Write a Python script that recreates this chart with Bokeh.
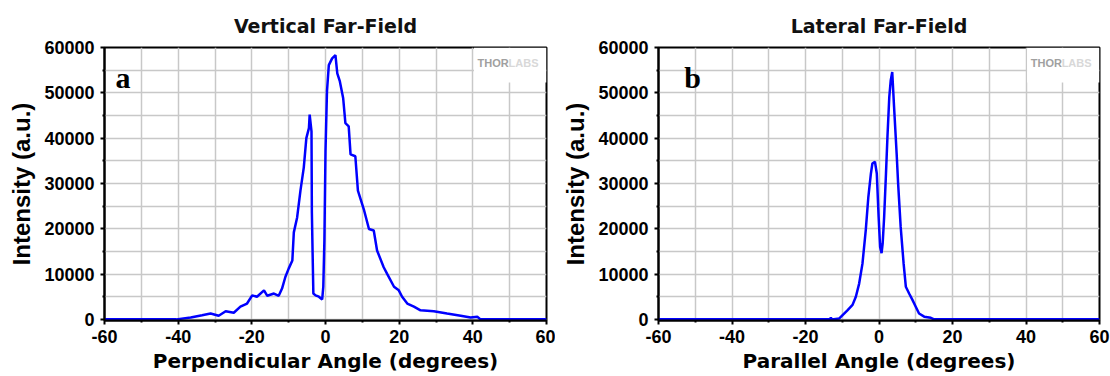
from bokeh.plotting import figure
from bokeh.layouts import row
from bokeh.models import Range1d, FixedTicker, Label, PrintfTickFormatter
from bokeh.embed import file_html
from bokeh.resources import INLINE

# ---- data ----
vert_angle = [-60, -40.5, -36.6, -33.5, -31.2, -29.0, -27.1, -24.9, -23.1, -21.3, -19.9, -18.6,
              -16.7, -15.8, -14.0, -12.7, -11.8, -10.9, -10.0, -9.0, -8.6, -7.7, -6.8, -5.9,
              -5.2, -4.5, -4.3, -3.8, -3.7, -3.3, -2.7, -1.8, -0.9, -0.6, -0.3, 0.0, 0.4,
              0.9, 1.8, 2.7, 3.2, 3.9, 4.8, 5.4, 6.3, 6.8, 8.1, 8.8, 10.4, 11.8, 13.1, 14.0,
              15.8, 16.7, 18.6, 19.9, 20.8, 22.2, 24.0, 25.8, 29.4, 33.0, 36.7, 39.4, 41.2,
              42.1, 60]
vert_intensity = [0, 0, 400, 900, 1300, 800, 1800, 1460, 2800, 3500, 5300, 5000,
                  6400, 5200, 5700, 5200, 6800, 9350, 11200, 13000, 19200, 22500, 28400, 33500,
                  40000, 42200, 45200, 41500, 23600, 5700, 5300, 5000, 4400, 7200, 17400, 37100, 50300,
                  56100, 57600, 58300, 54300, 52500, 48800, 43300, 42600, 36400, 36000, 28400, 24300, 19950, 19600, 15200,
                  11500, 10100, 7200, 6400, 5000, 3500, 2800, 2000, 1800, 1300, 800, 400, 580,
                  0, 0]

lat_angle = [-60, -13.4, -13.1, -12.8, -10.8, -9.9, -8.6, -7.2, -6.3, -5.4, -4.5, -3.6, -2.9,
             -2.2, -1.8, -1.1, -0.6, -0.1, 0.3, 0.7, 1.0, 1.4, 1.9, 2.3, 2.8, 3.2, 3.6,
             4.1, 4.8, 5.2, 5.9, 6.7, 7.3, 8.2, 9.1, 10.0, 10.9, 12.3, 14.1, 15.0, 60]
lat_intensity = [0, 0, 400, 0, 200, 950, 2000, 3200, 5000, 7900, 12300, 19700, 27000,
                 32200, 34400, 34800, 32200, 22600, 16000, 14600, 16800, 22600, 32200, 40300, 49100, 52800, 54600,
                 46900, 36600, 30000, 20400, 12300, 7200, 5700, 4300, 2800, 1300, 600, 350, 0, 0]

x_major = [-60, -40, -20, 0, 20, 40, 60]
x_minor = [-50, -30, -10, 10, 30, 50]
y_major = [0, 10000, 20000, 30000, 40000, 50000, 60000]
y_minor = [5000, 15000, 25000, 35000, 45000, 55000]

GRID = "#c8c8c8"
BLUE = "#0000ff"


def make_panel(title, xlabel, xs, ys, letter, letter_x, border_left, border_right):
    p = figure(width=555, height=376, output_backend="svg", toolbar_location=None,
               x_range=Range1d(-60, 60), y_range=Range1d(-250, 60000),
               min_border_left=border_left, min_border_right=border_right,
               min_border_top=47, min_border_bottom=56, title=title)
    p.title.align = "center"
    p.title.text_font = "DejaVu Sans"
    p.title.text_font_style = "bold"
    p.title.text_font_size = "19px"
    p.title.text_color = "#111111"
    p.title.standoff = 22

    p.xaxis.ticker = FixedTicker(ticks=x_major, minor_ticks=x_minor)
    p.yaxis.ticker = FixedTicker(ticks=y_major, minor_ticks=y_minor)
    p.xaxis.formatter = PrintfTickFormatter(format="%d")
    p.yaxis.formatter = PrintfTickFormatter(format="%d")
    for g in (p.xgrid, p.ygrid):
        g.grid_line_color = GRID
        g.grid_line_width = 1.5
        g.minor_grid_line_color = GRID
        g.minor_grid_line_width = 1.5
    for ax in (p.xaxis, p.yaxis):
        ax.axis_line_color = "black"
        ax.axis_line_width = 2
        ax.major_tick_line_color = "black"
        ax.major_tick_line_width = 2
        ax.major_tick_out = 4
        ax.major_tick_in = 0
        ax.minor_tick_line_color = "black"
        ax.minor_tick_line_width = 2
        ax.minor_tick_out = 2
        ax.minor_tick_in = 0
        ax.major_label_text_font = "Liberation Sans"
        ax.major_label_text_font_style = "bold"
        ax.major_label_text_font_size = "18px"
        ax.major_label_text_color = "black"
    p.xaxis.major_label_standoff = 5
    p.yaxis.major_label_standoff = 6

    p.xaxis.axis_label = xlabel
    p.xaxis.axis_label_text_font = "DejaVu Sans"
    p.xaxis.axis_label_text_font_style = "bold"
    p.xaxis.axis_label_text_font_size = "20px"
    p.xaxis.axis_label_standoff = 3
    p.xaxis.axis_label_text_color = "black"

    p.yaxis.axis_label = "Intensity (a.u.)"
    p.yaxis.axis_label_text_font = "Liberation Sans"
    p.yaxis.axis_label_text_font_style = "bold"
    p.yaxis.axis_label_text_font_size = "24px"
    p.yaxis.axis_label_standoff = 6
    p.yaxis.axis_label_text_color = "black"

    p.outline_line_color = "black"
    p.outline_line_width = 2
    p.outline_line_alpha = 1
    p.background_fill_color = "white"
    p.border_fill_color = "white"

    # white box behind the watermark
    p.quad(left=[40.3], right=[60], bottom=[52300], top=[60000],
           fill_color="white", line_color=None)
    p.line(xs, ys, line_color=BLUE, line_width=2.5)

    p.add_layout(Label(x=41.3, y=56600, text="THOR", text_font="Liberation Sans",
                       text_font_style="bold", text_font_size="11px", text_color="#a0a0a0",
                       text_baseline="middle"))
    p.add_layout(Label(x=49.7, y=56600, text="LABS", text_font="Liberation Sans",
                       text_font_style="bold", text_font_size="11px", text_color="#d8d8d8",
                       text_baseline="middle"))
    p.add_layout(Label(x=letter_x, y=53300, text=letter, text_font="Liberation Serif",
                       text_font_style="bold", text_font_size="30px", text_color="black",
                       text_baseline="middle"))
    return p


p1 = make_panel("Vertical Far-Field", "Perpendicular Angle (degrees)", vert_angle, vert_intensity,
                "a", -57, 104, 9)
p2 = make_panel("Lateral Far-Field", "Parallel Angle (degrees)", lat_angle, lat_intensity,
                "b", -53, 103, 11)

layout = row(p1, p2)
open("out.html", "w").write(file_html(layout, INLINE))
